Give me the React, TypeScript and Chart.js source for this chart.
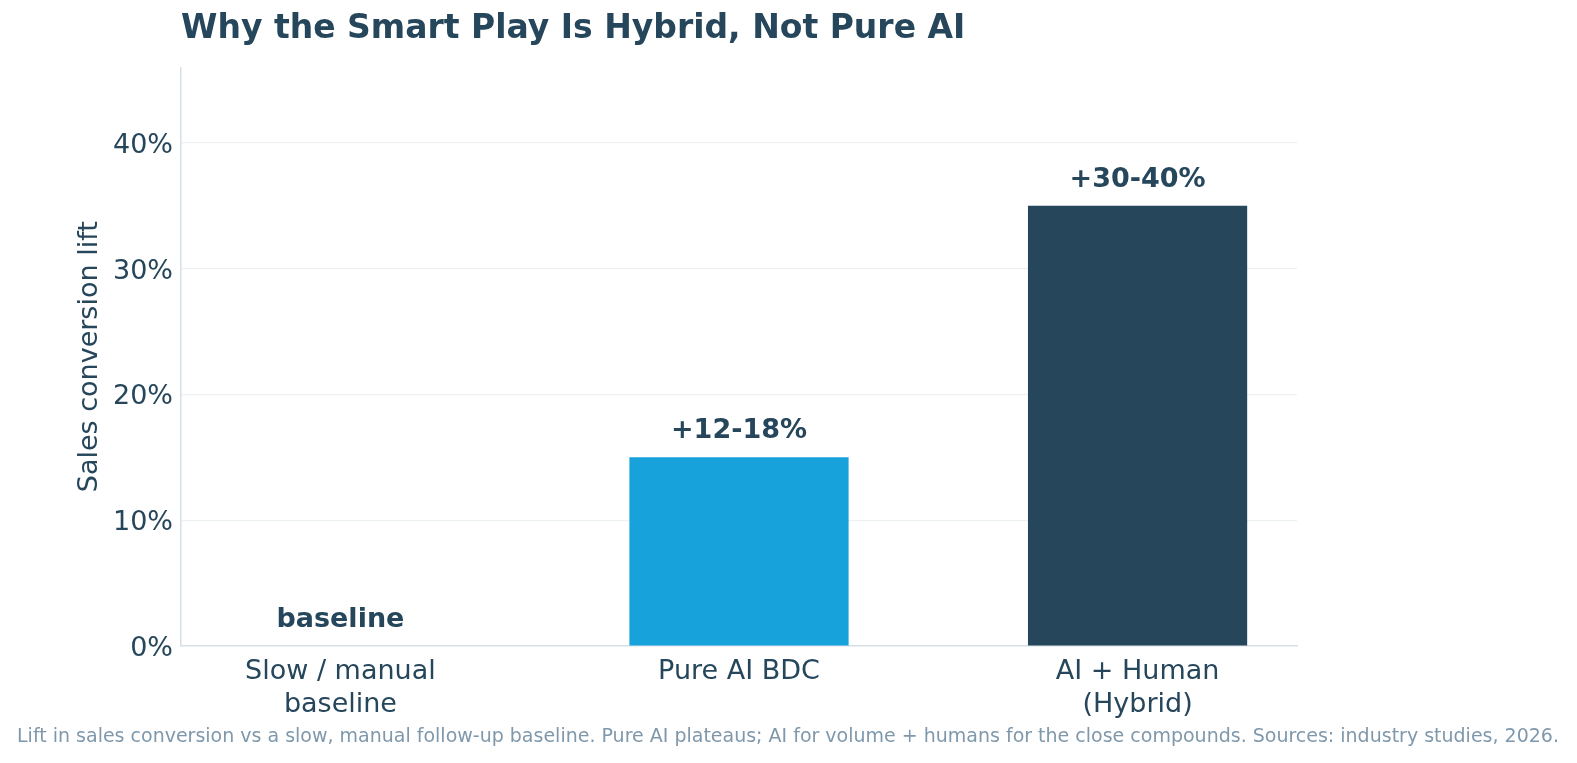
import React, { useEffect, useRef } from "react";
import { Chart, registerables } from "chart.js";

Chart.register(...registerables);

// Chart content
const chartTitle = "Why the Smart Play Is Hybrid, Not Pure AI";
const yAxisTitle = "Sales conversion lift";
const footnote =
  "Lift in sales conversion vs a slow, manual follow-up baseline. Pure AI plateaus; AI for volume + humans for the close compounds. Sources: industry studies, 2026.";

const categories: string[][] = [
  ["Slow / manual", "baseline"],
  ["Pure AI BDC"],
  ["AI + Human", "(Hybrid)"],
];
const liftValues = [0, 15, 35];
const valueLabels = ["baseline", "+12-18%", "+30-40%"];
const barColors = ["#17a2dc", "#17a2dc", "#26465b"];
const yTicks = [0, 10, 20, 30, 40];

const FONT = "'DejaVu Sans', sans-serif";
const INK = "#26465b";
const W = 1577;
const H = 763;
const AREA = { left: 181, top: 67.5, right: 1297, bottom: 646 };

const annotations = {
  id: "annotations",
  afterDatasetsDraw(chart: any) {
    const ctx = chart.ctx;
    const area = chart.chartArea;
    const meta = chart.getDatasetMeta(0);
    ctx.save();
    // value labels above each bar
    ctx.fillStyle = INK;
    ctx.font = `bold 27px ${FONT}`;
    ctx.textAlign = "center";
    ctx.textBaseline = "alphabetic";
    meta.data.forEach((bar: any, i: number) => {
      ctx.fillText(valueLabels[i], bar.x, bar.y - 19);
    });
    // chart title
    ctx.font = `bold 33px ${FONT}`;
    ctx.textAlign = "left";
    ctx.textBaseline = "middle";
    ctx.fillText(chartTitle, area.left, 29);
    // y axis title
    ctx.font = `27px ${FONT}`;
    ctx.textAlign = "center";
    ctx.translate(90, (area.top + area.bottom) / 2);
    ctx.rotate(-Math.PI / 2);
    ctx.fillText(yAxisTitle, 0, 0);
    ctx.setTransform(1, 0, 0, 1, 0, 0);
    // footnote
    ctx.fillStyle = "#7f98ab";
    ctx.font = `19px ${FONT}`;
    ctx.textAlign = "center";
    ctx.fillText(footnote, 788, 737);
    ctx.restore();
  },
};

export default function App() {
  const canvasRef = useRef<HTMLCanvasElement>(null);

  useEffect(() => {
    if (!canvasRef.current) return;
    const chart = new Chart(canvasRef.current, {
      type: "bar",
      data: {
        datasets: [
          {
            data: liftValues.map((v, i) => ({ x: i, y: v })),
            backgroundColor: barColors,
            borderWidth: 0,
            categoryPercentage: 1,
            barPercentage: 0.55,
          },
        ],
      },
      plugins: [annotations],
      options: {
        responsive: false,
        animation: false,
        devicePixelRatio: 1,
        layout: { padding: { top: AREA.top, right: W - AREA.right, left: 0, bottom: 0 } },
        plugins: {
          legend: { display: false },
          tooltip: { enabled: false },
          title: { display: false },
        },
        scales: {
          x: {
            type: "linear",
            offset: false,
            min: -0.4,
            max: 2.4,
            afterBuildTicks: (scale: any) => {
              scale.ticks = categories.map((_, i) => ({ value: i }));
            },
            afterFit: (scale: any) => {
              scale.height = H - AREA.bottom;
            },
            grid: { display: false },
            border: { display: true, color: "#d5dfe8", width: 1.5 },
            ticks: {
              padding: 2,
              color: INK,
              font: { family: FONT, size: 27 },
              maxRotation: 0,
              autoSkip: false,
              callback: (v: any) => categories[Number(v)] ?? "",
            },
          },
          y: {
            type: "linear",
            min: 0,
            max: 46,
            afterBuildTicks: (scale: any) => {
              scale.ticks = yTicks.map((v) => ({ value: v }));
            },
            afterFit: (scale: any) => {
              scale.width = AREA.left;
            },
            grid: {
              color: (c: any) => (c.tick && c.tick.value === 0 ? "rgba(0,0,0,0)" : "#edf1f4"),
              lineWidth: 1.2,
              drawTicks: false,
            },
            border: { display: true, color: "#d5dfe8", width: 1.5 },
            ticks: {
              padding: 8,
              labelOffset: 3,
              color: INK,
              font: { family: FONT, size: 27 },
              callback: (v: any) => `${v}%`,
            },
          },
        },
      },
    } as any);
    return () => chart.destroy();
  }, []);

  return (
    <div style={{ position: "fixed", left: 0, top: 0, width: W, height: H, background: "#fff" }}>
      <canvas ref={canvasRef} width={W} height={H} />
    </div>
  );
}
